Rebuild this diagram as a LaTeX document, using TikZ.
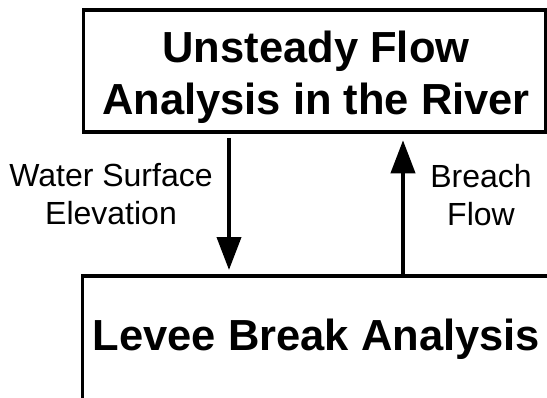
\documentclass[tikz,border=0pt]{standalone}
\usepackage{fontspec}
\setmainfont{Liberation Sans}
\usetikzlibrary{arrows.meta}

\begin{document}
\begin{tikzpicture}[x=1pt,y=-1pt,
	box/.style={draw,line width=3.5pt,inner sep=0pt},
	title/.style={font=\fontsize{43.5}{52}\selectfont\bfseries,align=center,inner sep=0pt},
	side/.style={font=\fontsize{32}{38}\selectfont,align=center,inner sep=0pt},
	flow/.style={line width=4pt,-{Triangle[length=33pt,width=24pt]}}]
	\useasboundingbox (0,0) rectangle (547,397);
	
	%boxes
	\node[box,minimum width=462pt,minimum height=122pt] (river) at (314.5,71) {};		%top
	\node[box,minimum width=540pt,minimum height=250pt] (levee) at (352.3,401) {};		%bottom, runs off the page
	
	%labels - inside
	\node[title] (rivertxt) at (316,77) {Unsteady Flow\\Analysis in the River};
	\node[title,anchor=base] (leveetxt) at (316.5,350) {Levee Break Analysis};
	
	%labels - beside the arrows
	\node[side] (wse) at (111,194) {Water Surface\\Elevation};
	\node[side] (breach) at (481,195) {Breach\\Flow};
	
	%arrows
	\coordinate (downx) at (229,0);
	\coordinate (upx) at (403,0);
	\draw[flow,shorten <=4pt,shorten >=4.25pt] (river.south -| downx) -- (levee.north -| downx);	%river to levee
	\draw[flow,shorten >=6.5pt] (levee.north -| upx) -- (river.south -| upx);						%levee to river
\end{tikzpicture}
\end{document}
